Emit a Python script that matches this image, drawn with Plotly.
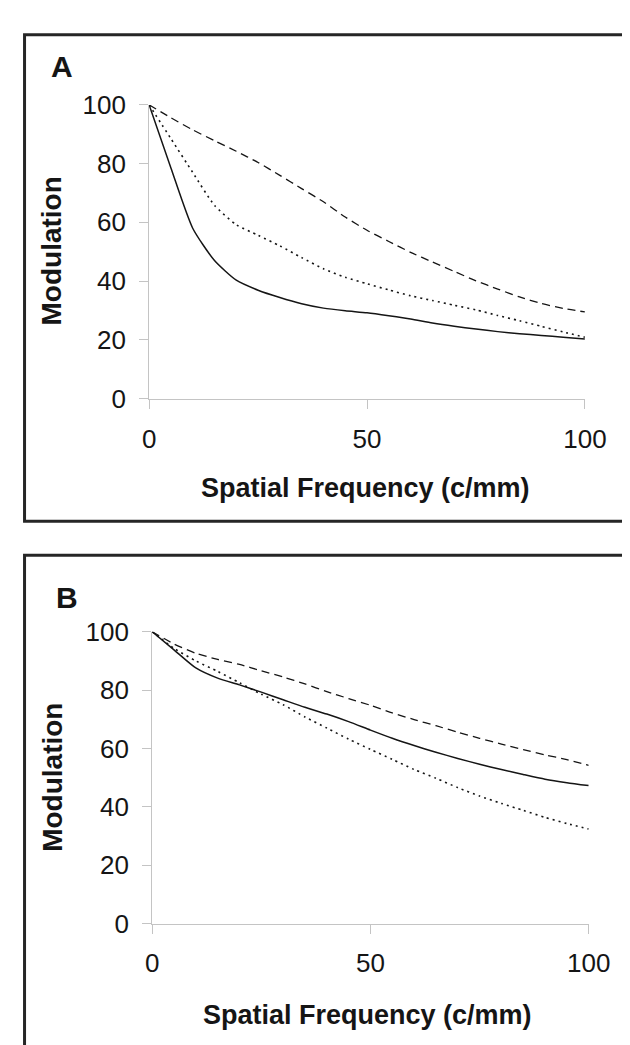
import plotly.graph_objects as go

# ---- data ----
freq = [0, 5, 10, 15, 20, 25, 30, 35, 40, 45, 50, 55, 60, 65, 70, 75, 80, 85, 90, 95, 100]

a_solid = [100, 78.5, 58.0, 47.0, 40.3, 36.9, 34.4, 32.3, 30.8, 29.9, 29.2, 28.2, 27.1, 25.7, 24.6, 23.7, 22.8, 22.1, 21.5, 20.9, 20.3]
a_dashed = [100, 95.6, 91.5, 87.8, 84.2, 80.4, 76.0, 71.5, 67.0, 61.8, 57.3, 53.5, 49.8, 46.5, 43.3, 40.1, 37.3, 34.6, 32.4, 30.7, 29.5]
a_dotted = [100, 88.5, 77.0, 65.8, 59.2, 55.6, 52.0, 48.0, 44.2, 41.3, 39.1, 37.0, 35.0, 33.4, 31.8, 30.2, 28.3, 26.5, 24.6, 22.7, 20.9]

b_solid = [100, 93.8, 87.6, 84.1, 81.8, 79.3, 76.7, 74.1, 71.8, 69.2, 66.3, 63.5, 61.0, 58.7, 56.6, 54.6, 52.8, 51.1, 49.5, 48.3, 47.3]
b_dashed = [100, 95.8, 92.6, 90.5, 88.8, 86.6, 84.5, 82.1, 79.5, 77.1, 74.8, 72.2, 69.9, 67.8, 65.6, 63.5, 61.5, 59.6, 57.8, 56.2, 54.2]
b_dotted = [100, 94.3, 90.0, 86.4, 82.5, 78.6, 75.0, 70.8, 67.0, 63.2, 59.7, 56.3, 52.8, 49.8, 46.6, 43.7, 41.2, 38.8, 36.4, 34.3, 32.4]

x_ticks = [0, 50, 100]
y_ticks = [0, 20, 40, 60, 80, 100]
panel_labels = ["A", "B"]
x_title = "Spatial Frequency (c/mm)"
y_title = "Modulation"

W, H = 630, 1045
FONT = "Liberation Sans, Arial, sans-serif"
INK = "#151515"
AXIS = "#c4c4c4"


def px(x):
    return x / W


def py(y):
    return 1 - y / H


fig = go.Figure()

styles = [("solid", 1.5), ("8px,5px", 1.3), ("2px,4px", 1.6)]
panels = [
    ("x", "y", [a_solid, a_dashed, a_dotted]),
    ("x2", "y2", [b_solid, b_dashed, b_dotted]),
]
for xa, ya, series in panels:
    for vals, (dash, w) in zip(series, styles):
        fig.add_trace(go.Scatter(
            x=freq, y=vals, xaxis=xa, yaxis=ya, mode="lines",
            line=dict(color=INK, width=w, dash=dash, shape="spline", smoothing=0.6),
            showlegend=False, hoverinfo="skip"))

axis_common = dict(
    range=[0, 100], showgrid=False, zeroline=False, showline=True,
    linecolor=AXIS, linewidth=1, ticks="outside", ticklen=9,
    tickcolor=AXIS, tickwidth=1, tickfont=dict(family=FONT, size=26, color=INK),
)

fig.update_layout(
    width=W, height=H,
    margin=dict(l=0, r=0, t=0, b=0),
    paper_bgcolor="white", plot_bgcolor="white",
    xaxis=dict(axis_common, domain=[px(140.6), px(597.4)], tickvals=x_ticks,
               anchor="y", ticklabelstandoff=8),
    yaxis=dict(axis_common, domain=[py(386.7), py(84.3)], tickvals=y_ticks,
               anchor="x", ticklabelstandoff=8),
    xaxis2=dict(axis_common, domain=[px(143.8), px(601.4)], tickvals=x_ticks,
                anchor="y2", ticklabelstandoff=7),
    yaxis2=dict(axis_common, domain=[py(927.3), py(626.7)], tickvals=y_ticks,
                anchor="x2", ticklabelstandoff=8),
)

# panel borders
fig.add_shape(type="rect", xref="paper", yref="paper",
              x0=px(10), x1=1.05, y0=py(513), y1=py(12),
              line=dict(color="#262626", width=3), fillcolor="rgba(0,0,0,0)")
fig.add_shape(type="rect", xref="paper", yref="paper",
              x0=px(10), x1=1.05, y0=-0.05, y1=py(548),
              line=dict(color="#262626", width=3), fillcolor="rgba(0,0,0,0)")

# titles and panel letters
title_font = dict(family=FONT, size=27, color=INK)
for (xt, yt), (yx, yy), (lx, ly), lab in [
    ((367, 479), (38, 235), (49, 45), panel_labels[0]),
    ((369, 1021), (40, 777), (54, 591), panel_labels[1]),
]:
    fig.add_annotation(text="<b>%s</b>" % x_title, x=px(xt), y=py(yt),
                       xref="paper", yref="paper", showarrow=False,
                       xanchor="center", yanchor="middle", font=title_font)
    fig.add_annotation(text="<b>%s</b>" % y_title, x=px(yx), y=py(yy),
                       xref="paper", yref="paper", showarrow=False, textangle=-90,
                       xanchor="center", yanchor="middle",
                       font=dict(family=FONT, size=28, color=INK))
    fig.add_annotation(text="<b>%s</b>" % lab, x=px(lx), y=py(ly),
                       xref="paper", yref="paper", showarrow=False,
                       xanchor="center", yanchor="middle",
                       font=dict(family=FONT, size=30, color=INK))

fig.write_html("out.html")
